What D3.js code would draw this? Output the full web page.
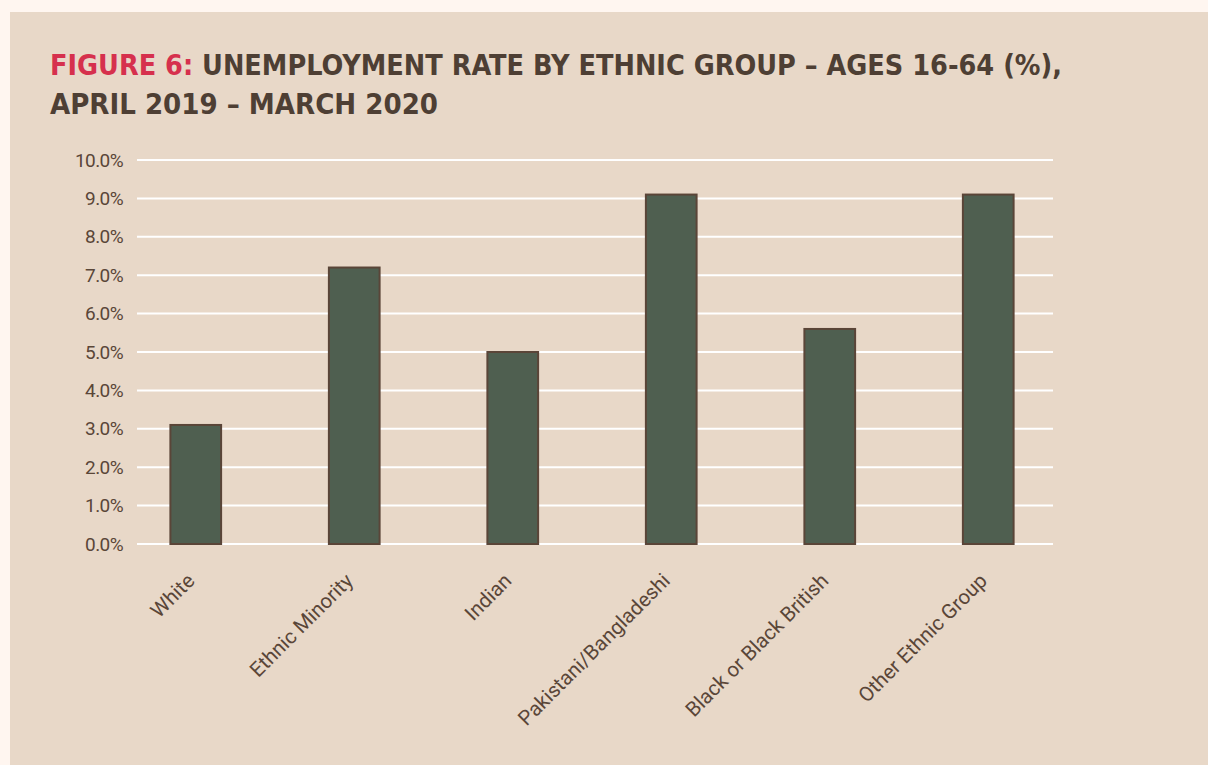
<!DOCTYPE html>
<html>
<head>
<meta charset="utf-8">
<script src="https://cdn.jsdelivr.net/npm/d3@7"></script>
<style>
  html, body { margin: 0; padding: 0; background: #fff6f0; }
  svg { display: block; }
</style>
</head>
<body>
<svg id="chart" width="1208" height="765"></svg>
<script>
// Unemployment rate by ethnic group, ages 16-64, Apr 2019 – Mar 2020
const categories = ["White", "Ethnic Minority", "Indian", "Pakistani/Bangladeshi", "Black or Black British", "Other Ethnic Group"];
const rates = [3.1, 7.2, 5.0, 9.1, 5.6, 9.1];
const yTicks = [0, 1, 2, 3, 4, 5, 6, 7, 8, 9, 10];

const titleLead = "FIGURE 6:";
const titleLine1 = "UNEMPLOYMENT RATE BY ETHNIC GROUP – AGES 16-64 (%),";
const titleLine2 = "APRIL 2019 – MARCH 2020";

const svg = d3.select("#chart");

// panel
svg.append("rect")
  .attr("x", 10).attr("y", 12)
  .attr("width", 1198).attr("height", 753)
  .attr("fill", "#e8d8c8");

// title
const titleFont = "'DejaVu Sans Condensed', 'DejaVu Sans', sans-serif";
const t1 = svg.append("text")
  .attr("x", 50).attr("y", 75)
  .attr("font-family", titleFont)
  .attr("font-weight", "bold")
  .attr("font-size", 28)
  .attr("textLength", 1012)
  .attr("lengthAdjust", "spacingAndGlyphs");
t1.append("tspan").attr("fill", "#d6304d").text(titleLead + " ");
t1.append("tspan").attr("fill", "#4e3f34").text(titleLine1);

svg.append("text")
  .attr("x", 50).attr("y", 114)
  .attr("font-family", titleFont)
  .attr("font-weight", "bold")
  .attr("font-size", 28)
  .attr("fill", "#4e3f34")
  .attr("textLength", 388)
  .attr("lengthAdjust", "spacingAndGlyphs")
  .text(titleLine2);

// scales
const x = d3.scaleBand()
  .domain(categories)
  .range([116.5, 1067.5])
  .paddingInner(0.68)
  .paddingOuter(0.34);

const y = d3.scaleLinear()
  .domain([0, 10])
  .range([544, 160]);

const gridLeft = 137, gridRight = 1053;

// gridlines
svg.append("g")
  .selectAll("line")
  .data(yTicks)
  .join("line")
  .attr("x1", gridLeft).attr("x2", gridRight)
  .attr("y1", d => y(d)).attr("y2", d => y(d))
  .attr("stroke", "#ffffff")
  .attr("stroke-width", 2);

// y axis labels
const yAxis = d3.axisLeft(y)
  .tickValues(yTicks)
  .tickFormat(d => d3.format(".1f")(d) + "%")
  .tickSize(0)
  .tickPadding(0);

const yg = svg.append("g")
  .attr("transform", `translate(123,0)`)
  .call(yAxis);
yg.select(".domain").remove();
yg.selectAll("text")
  .attr("font-family", "Roboto, sans-serif")
  .attr("font-size", 19)
  .attr("letter-spacing", -0.6)
  .attr("fill", "#5a4638");

// bars
svg.append("g")
  .selectAll("rect")
  .data(categories)
  .join("rect")
  .attr("x", d => x(d))
  .attr("y", (d, i) => y(rates[i]))
  .attr("width", x.bandwidth())
  .attr("height", (d, i) => y(0) - y(rates[i]))
  .attr("fill", "#4f5f50")
  .attr("stroke", "#5a4538")
  .attr("stroke-width", 2);

// category labels
svg.append("g")
  .selectAll("text")
  .data(categories)
  .join("text")
  .attr("transform", d => `translate(${x(d) + x.bandwidth() / 2 - 5},${577}) rotate(-45)`)
  .attr("text-anchor", "end")
  .attr("dy", "0.35em")
  .attr("font-family", "Roboto, sans-serif")
  .attr("font-size", 20.5)
  .attr("fill", "#5a4638")
  .text(d => d);
</script>
</body>
</html>
